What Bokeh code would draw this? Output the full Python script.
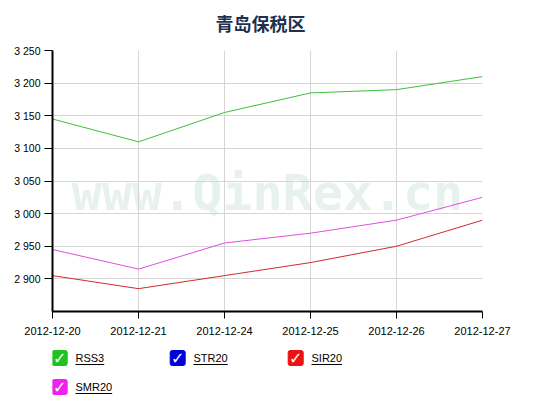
from bokeh.plotting import figure
from bokeh.models import Range1d, FixedTicker, Label, ColumnDataSource
from bokeh.layouts import column
from bokeh.embed import file_html
from bokeh.resources import INLINE
from bokeh.core.properties import value

# ---- data ----
dates = ["2012-12-20", "2012-12-21", "2012-12-24", "2012-12-25", "2012-12-26", "2012-12-27"]
rss3 = [3145, 3110, 3155, 3185, 3190, 3210]
smr20 = [2945, 2915, 2955, 2970, 2990, 3025]
sir20 = [2905, 2885, 2905, 2925, 2950, 2990]
y_ticks = [2900, 2950, 3000, 3050, 3100, 3150, 3200, 3250]
y_tick_labels = ["2 900", "2 950", "3 000", "3 050", "3 100", "3 150", "3 200", "3 250"]
legend_names = ["RSS3", "STR20", "SIR20", "SMR20"]
legend_colors = ["#1ec31e", "#0000dd", "#ee1111", "#ee22ee"]
title_text = "青岛保税区"
watermark = "www.QinRex.cn"

xs = list(range(len(dates)))
y_lo, y_hi = 2850, 3250


def blank(height):
    f = figure(width=534, height=height, output_backend="svg", toolbar_location=None,
               x_range=Range1d(52, 482), y_range=Range1d(height, 0),
               min_border=0, min_border_left=52, min_border_right=52,
               min_border_top=0, min_border_bottom=0)
    f.axis.visible = False
    f.grid.visible = False
    f.outline_line_color = None
    return f


# ---- header with title ----
hd = blank(40)
hd.text(x=[260], y=[22], text=[title_text], text_align="center", text_baseline="middle",
        text_font=value("Noto Sans CJK SC"), text_font_size="18px", text_font_style="bold",
        text_color="#1f3050")

# ---- main chart ----
p = figure(width=534, height=300, output_backend="svg", toolbar_location=None,
           x_range=Range1d(0, len(dates) - 1), y_range=Range1d(y_lo, y_hi),
           min_border_left=52, min_border_right=52, min_border_top=10, min_border_bottom=29)
p.outline_line_color = None
p.background_fill_color = "white"
p.border_fill_color = "white"

p.xaxis.ticker = FixedTicker(ticks=xs)
p.xaxis.major_label_overrides = {i: d for i, d in enumerate(dates)}
p.yaxis.ticker = FixedTicker(ticks=y_ticks)
p.yaxis.major_label_overrides = {t: l for t, l in zip(y_ticks, y_tick_labels)}
for ax in (p.xaxis[0], p.yaxis[0]):
    ax.axis_line_color = "black"
    ax.axis_line_width = 2
    ax.major_tick_line_color = "black"
    ax.major_tick_line_width = 1
    ax.minor_tick_line_color = None
    ax.major_tick_in = 0
    ax.major_label_text_font = "Liberation Sans"
    ax.major_label_text_color = "black"
p.xaxis.major_tick_out = 7
p.xaxis.major_label_standoff = 8
p.xaxis.major_label_text_font_size = "11px"
p.yaxis.major_tick_out = 8
p.yaxis.major_label_standoff = 4
p.yaxis.major_label_text_font_size = "10.5px"

p.xgrid.ticker = FixedTicker(ticks=xs)
p.ygrid.ticker = FixedTicker(ticks=y_ticks)
p.grid.grid_line_color = "#d6d6d6"
p.grid.grid_line_width = 1

# watermark
wm = Label(x=(len(dates) - 1) / 2, y=3031, text=watermark, text_align="center",
           text_baseline="alphabetic", text_font="DejaVu Sans Mono", text_font_style="bold",
           text_font_size="50px", text_color="#e8f2ed", level="image")
p.add_layout(wm)

# lines
p.line(xs, rss3, line_color="#3cbf3c", line_width=1)
p.line(xs, smr20, line_color="#e04ee0", line_width=1)
p.line(xs, sir20, line_color="#d42a2a", line_width=1)

# ---- legend (frame aligned with the main frame: page x 52..482) ----
lg = blank(59)
ncols = 3
col_w = 118
row_h = 29
cx, cy, lx, ux0, ux1, uy = [], [], [], [], [], []
char_em = {"R": 0.722, "S": 0.667, "T": 0.611, "I": 0.278, "M": 0.833}
for i, name in enumerate(legend_names):
    r, c = divmod(i, ncols)
    x0 = 59.2 + c * col_w
    y0 = 17.5 + r * row_h
    cx.append(x0)
    cy.append(y0)
    lx.append(x0 + 15.8)
    w = sum(char_em.get(ch, 0.556) for ch in name) * 11
    ux0.append(x0 + 15.8)
    ux1.append(x0 + 15.8 + w)
    uy.append(y0 + 6.5)

src = ColumnDataSource(dict(cx=cx, cy=cy, lx=lx, ux0=ux0, ux1=ux1, uy=uy,
                            name=legend_names, color=legend_colors))
lg.rect(x="cx", y="cy", width=15, height=15, width_units="screen", height_units="screen",
        fill_color="color", line_color="color", source=src, border_radius=2)
lg.text(x="cx", y="cy", text=value("✓"), text_align="center", text_baseline="middle",
        text_color="white", text_font=value("DejaVu Sans"),
        text_font_size="16px", source=src)
lg.text(x="lx", y="cy", text="name", text_align="left", text_baseline="middle",
        text_color="black", text_font=value("Liberation Sans"), text_font_size="11px",
        source=src)
lg.segment(x0="ux0", y0="uy", x1="ux1", y1="uy", line_color="black", line_width=1, source=src)

layout = column(hd, p, lg, spacing=0)
open("out.html", "w").write(file_html(layout, INLINE))
